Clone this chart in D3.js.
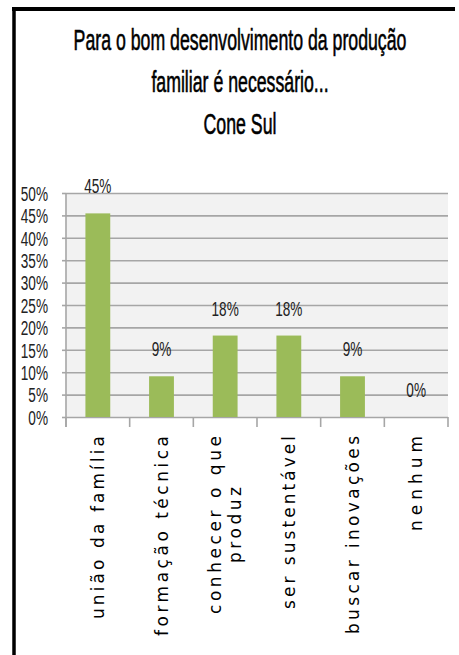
<!DOCTYPE html>
<html>
<head>
<meta charset="utf-8">
<script src="https://cdn.jsdelivr.net/npm/d3@7"></script>
<style>
  html, body { margin: 0; padding: 0; background: #ffffff; }
  svg { display: block; }
</style>
</head>
<body>
<script>
// ---- data ----
const titleLines = ["Para o bom desenvolvimento da produção", "familiar é necessário...", "Cone Sul"];
const categories = ["união da família", "formação técnica", "conhecer o que\nproduz", "ser sustentável", "buscar inovações", "nenhum"];
const values = [0.4545, 0.0909, 0.1818, 0.1818, 0.0909, 0];
const valueLabels = ["45%", "9%", "18%", "18%", "9%", "0%"];
const yTicks = [0, 0.05, 0.10, 0.15, 0.20, 0.25, 0.30, 0.35, 0.40, 0.45, 0.50];
const yTickLabels = ["0%", "5%", "10%", "15%", "20%", "25%", "30%", "35%", "40%", "45%", "50%"];

// ---- layout (not data) ----
const W = 459, H = 655;
const plot = { left: 66, right: 448, top: 193, bottom: 417 };
const labelSpans = [183, 200, 178, 173, 198, 95]; // rendered length of the longest line of each category label

const svg = d3.select("body").append("svg").attr("width", W).attr("height", H);
svg.append("rect").attr("width", W).attr("height", H).attr("fill", "#fff");

function squeeze(sel, f) {
  sel.each(function () {
    const L = this.getComputedTextLength();
    d3.select(this).attr("textLength", L * f).attr("lengthAdjust", "spacingAndGlyphs");
  });
}

// frame (top + left)
svg.append("line").attr("x1", 12).attr("x2", 455).attr("y1", 9).attr("y2", 9)
  .attr("stroke", "#000").attr("stroke-width", 4);
svg.append("line").attr("x1", 14).attr("x2", 14).attr("y1", 7).attr("y2", H)
  .attr("stroke", "#000").attr("stroke-width", 3.5);

// title (condensed by horizontal scaling)
const titleG = svg.append("g");
const titleRows = titleG.selectAll("g").data(titleLines).join("g");
const titleTexts = titleRows.append("text")
  .attr("x", 0).attr("y", 0)
  .attr("text-anchor", "middle")
  .attr("font-family", "'Liberation Sans', Arial, sans-serif")
  .attr("font-size", 30)
  .attr("fill", "#000")
  .attr("stroke", "#000")
  .attr("stroke-width", 0.6)
  .text(d => d);
const tf = 333 / titleTexts.node().getComputedTextLength();
titleRows.attr("transform", (d, i) => `translate(240,${50 + i * 42}) scale(${tf},1)`);

// scales
const x = d3.scaleBand().domain(categories).range([plot.left, plot.right]).padding(0);
const y = d3.scaleLinear().domain([0, 0.5]).range([plot.bottom, plot.top]);
const bw = x.bandwidth();

// plot background
svg.append("rect")
  .attr("x", plot.left).attr("y", y(0.5))
  .attr("width", plot.right - plot.left).attr("height", y(0) - y(0.5))
  .attr("fill", "#f2f2f2");

// gridlines
const grid = svg.append("g").attr("transform", `translate(${plot.left},0)`)
  .call(d3.axisLeft(y).tickValues(yTicks).tickSize(-(plot.right - plot.left)).tickFormat(""));
grid.select(".domain").remove();
grid.selectAll("line").attr("stroke", "#a6a6a6").attr("stroke-width", 1.6);

// y axis
const yAxis = svg.append("g").attr("transform", `translate(${plot.left},0)`)
  .call(d3.axisLeft(y).tickValues(yTicks).tickSize(4).tickPadding(14)
    .tickFormat((d, i) => yTickLabels[i]));
yAxis.select(".domain").remove();
yAxis.selectAll("line").attr("stroke", "#a6a6a6").attr("stroke-width", 1.6);
yAxis.selectAll("text")
  .attr("font-family", "'Liberation Sans', Arial, sans-serif")
  .attr("font-size", 20)
  .attr("fill", "#222")
  .attr("dy", "0.36em");
squeeze(yAxis.selectAll("text"), 0.68);

svg.append("line").attr("x1", plot.left).attr("x2", plot.left)
  .attr("y1", y(0.5)).attr("y2", plot.bottom + 10)
  .attr("stroke", "#a6a6a6").attr("stroke-width", 1.6);

// x axis category tick marks
const bounds = categories.map(c => x(c)).concat([x(categories[categories.length - 1]) + bw]);
svg.append("g").selectAll("line").data(bounds).join("line")
  .attr("x1", d => d).attr("x2", d => d)
  .attr("y1", plot.bottom).attr("y2", plot.bottom + 10)
  .attr("stroke", "#a6a6a6").attr("stroke-width", 1.6);

// bars
svg.append("g").selectAll("rect").data(values).join("rect")
  .attr("x", (d, i) => x(categories[i]) + bw * 0.305)
  .attr("width", bw * 0.39)
  .attr("y", d => y(d))
  .attr("height", d => y(0) - y(d))
  .attr("fill", "#9bbb59");

// value labels
const vl = svg.append("g").selectAll("text").data(values).join("text")
  .attr("x", (d, i) => x(categories[i]) + bw / 2)
  .attr("y", d => y(d) - 20)
  .attr("text-anchor", "middle")
  .attr("font-family", "'Liberation Sans', Arial, sans-serif")
  .attr("font-size", 20)
  .attr("fill", "#222")
  .text((d, i) => valueLabels[i]);
squeeze(vl, 0.68);

// category labels (rotated)
const labTop = 436;
categories.forEach((c, i) => {
  const lines = c.split("\n");
  const cx = x(c) + bw / 2;
  const span = labelSpans[i];
  const g = svg.append("g").attr("transform", `translate(${cx},${labTop + span / 2}) rotate(-90)`);
  const texts = g.selectAll("text").data(lines).join("text")
    .attr("x", 0)
    .attr("y", (d, j) => 6 + (j - (lines.length - 1) / 2) * 20)
    .attr("text-anchor", "middle")
    .attr("font-family", "'DejaVu Sans', Verdana, sans-serif")
    .attr("font-size", 17)
    .attr("fill", "#000")
    .text(d => d);
  // spread letters so the longest line spans the measured length
  const nat = texts.nodes().map(n => n.getComputedTextLength());
  const k = nat.indexOf(Math.max(...nat));
  const gap = (span - nat[k]) / Math.max(1, lines[k].length - 1);
  texts.each(function (d, j) {
    d3.select(this).attr("textLength", nat[j] + gap * (d.length - 1)).attr("lengthAdjust", "spacing");
  });
});
</script>
</body>
</html>
